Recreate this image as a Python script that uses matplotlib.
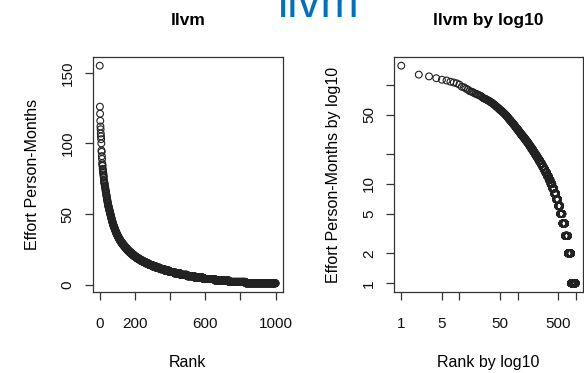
import numpy as np
import matplotlib
matplotlib.use("Agg")
import matplotlib.pyplot as plt

plt.rcParams['font.family'] = ['Liberation Sans', 'DejaVu Sans']

# effort (person-months) of the top-ranked files
top_effort = [155, 126, 121, 116, 112, 110, 107, 105, 103, 100,
              95, 94, 91, 89, 86, 85, 84, 82, 81, 80,
              79, 78, 77, 76, 74, 73, 72, 72, 71, 70,
              69, 69, 68, 67, 66, 66, 65, 64, 63, 63,
              62, 61, 60, 60, 59, 58, 58, 57, 56, 56]
# the long tail: integer effort levels and how many files sit on each
tail_levels = [55, 54, 53, 52, 51, 50, 49, 48, 47, 46,
               45, 44, 43, 42, 41, 40, 39, 38, 37, 36,
               35, 34, 33, 32, 31, 30, 29, 28, 27, 26,
               25, 24, 23, 22, 21, 20, 19, 18, 17, 16,
               15, 14, 13, 12, 11, 10, 9, 8, 7, 6,
               5, 4, 3, 2, 1]
tail_counts = [2, 2, 2, 2, 2, 2, 2, 2, 2, 2,
               2, 3, 2, 3, 3, 3, 3, 3, 3, 4,
               4, 4, 4, 5, 5, 6, 6, 6, 7, 7,
               7, 8, 9, 9, 10, 11, 12, 13, 15, 16,
               17, 19, 21, 23, 25, 27, 30, 34, 38, 42,
               50, 65, 80, 95, 171]

lin_xticks = [0, 200, 400, 600, 800, 1000]
lin_xlabels = ['0', '200', '', '600', '', '1000']
lin_yticks = [0, 50, 100, 150]
log_xticks = [1, 5, 10, 50, 100, 500, 1000]
log_xlabels = ['1', '5', '', '50', '', '500', '']
log_yticks = [1, 2, 5, 10, 20, 50, 100]
log_ylabels = ['1', '2', '5', '10', '', '50', '']

effort = np.concatenate([top_effort, np.repeat(tail_levels, tail_counts)])
rank = np.arange(1, len(effort) + 1)

W, H = 584, 373
fig = plt.figure(figsize=(W / 100, H / 100), dpi=100)

def px_axes(x0, y0, x1, y1):
    return fig.add_axes([x0 / W, 1 - y1 / H, (x1 - x0) / W, (y1 - y0) / H])

ax1 = px_axes(92.7, 57, 282.7, 292)
ax2 = px_axes(394.3, 57, 582.7, 292)

def style(ax):
    for s in ax.spines.values():
        s.set_color('#333333')
        s.set_linewidth(0.9)
    ax.tick_params(direction='out', length=6, width=0.9, color='#333333',
                   labelsize=11, labelcolor='#111111')
    ax.tick_params(axis='x', pad=12)
    ax.tick_params(axis='y', pad=7)
    ax.minorticks_off()

def points(ax):
    ax.scatter(rank, effort, s=24, facecolors='none', edgecolors='#222222',
               linewidths=0.8, clip_on=False, zorder=3)

# left: plain scale
points(ax1)
n = len(effort)
ax1.set_xlim(1 - 0.04 * (n - 1), n + 0.04 * (n - 1))
lo, hi = min(effort), max(effort)
ax1.set_ylim(lo - 0.04 * (hi - lo), hi + 0.04 * (hi - lo))
ax1.set_xticks(lin_xticks, lin_xlabels)
ax1.set_yticks(lin_yticks, [str(t) for t in lin_yticks])
for lab in ax1.get_yticklabels():
    lab.set_rotation(90)
    lab.set_va('center')
style(ax1)
ax1.set_title('llvm', fontsize=12.5, fontweight='bold', pad=23)
ax1.set_xlabel('Rank', fontsize=11.5, labelpad=17)
ax1.set_ylabel('Effort Person-Months', fontsize=11.5, labelpad=15)

# right: log-log
points(ax2)
ax2.set_xscale('log')
ax2.set_yscale('log')
lx = 0.04 * np.log10(n)
ax2.set_xlim(10 ** -lx, n * 10 ** lx)
ly = 0.04 * np.log10(hi / lo)
ax2.set_ylim(lo * 10 ** -ly, hi * 10 ** ly)
ax2.set_xticks(log_xticks, log_xlabels)
ax2.set_yticks(log_yticks, log_ylabels)
for lab in ax2.get_yticklabels():
    lab.set_rotation(90)
    lab.set_va('center')
style(ax2)
ax2.set_title('llvm by log10', fontsize=12.5, fontweight='bold', pad=23)
ax2.set_xlabel('Rank by log10', fontsize=11.5, labelpad=17)
ax2.set_ylabel('Effort Person-Months by log10', fontsize=11.5, labelpad=15)

# slide heading, mostly cut off by the top edge
fig.text(319 / W, 1 - 17 / H, 'llvm', fontsize=33, color='#0070C0',
         ha='center', va='baseline')

fig.savefig('out.png', dpi=100)
